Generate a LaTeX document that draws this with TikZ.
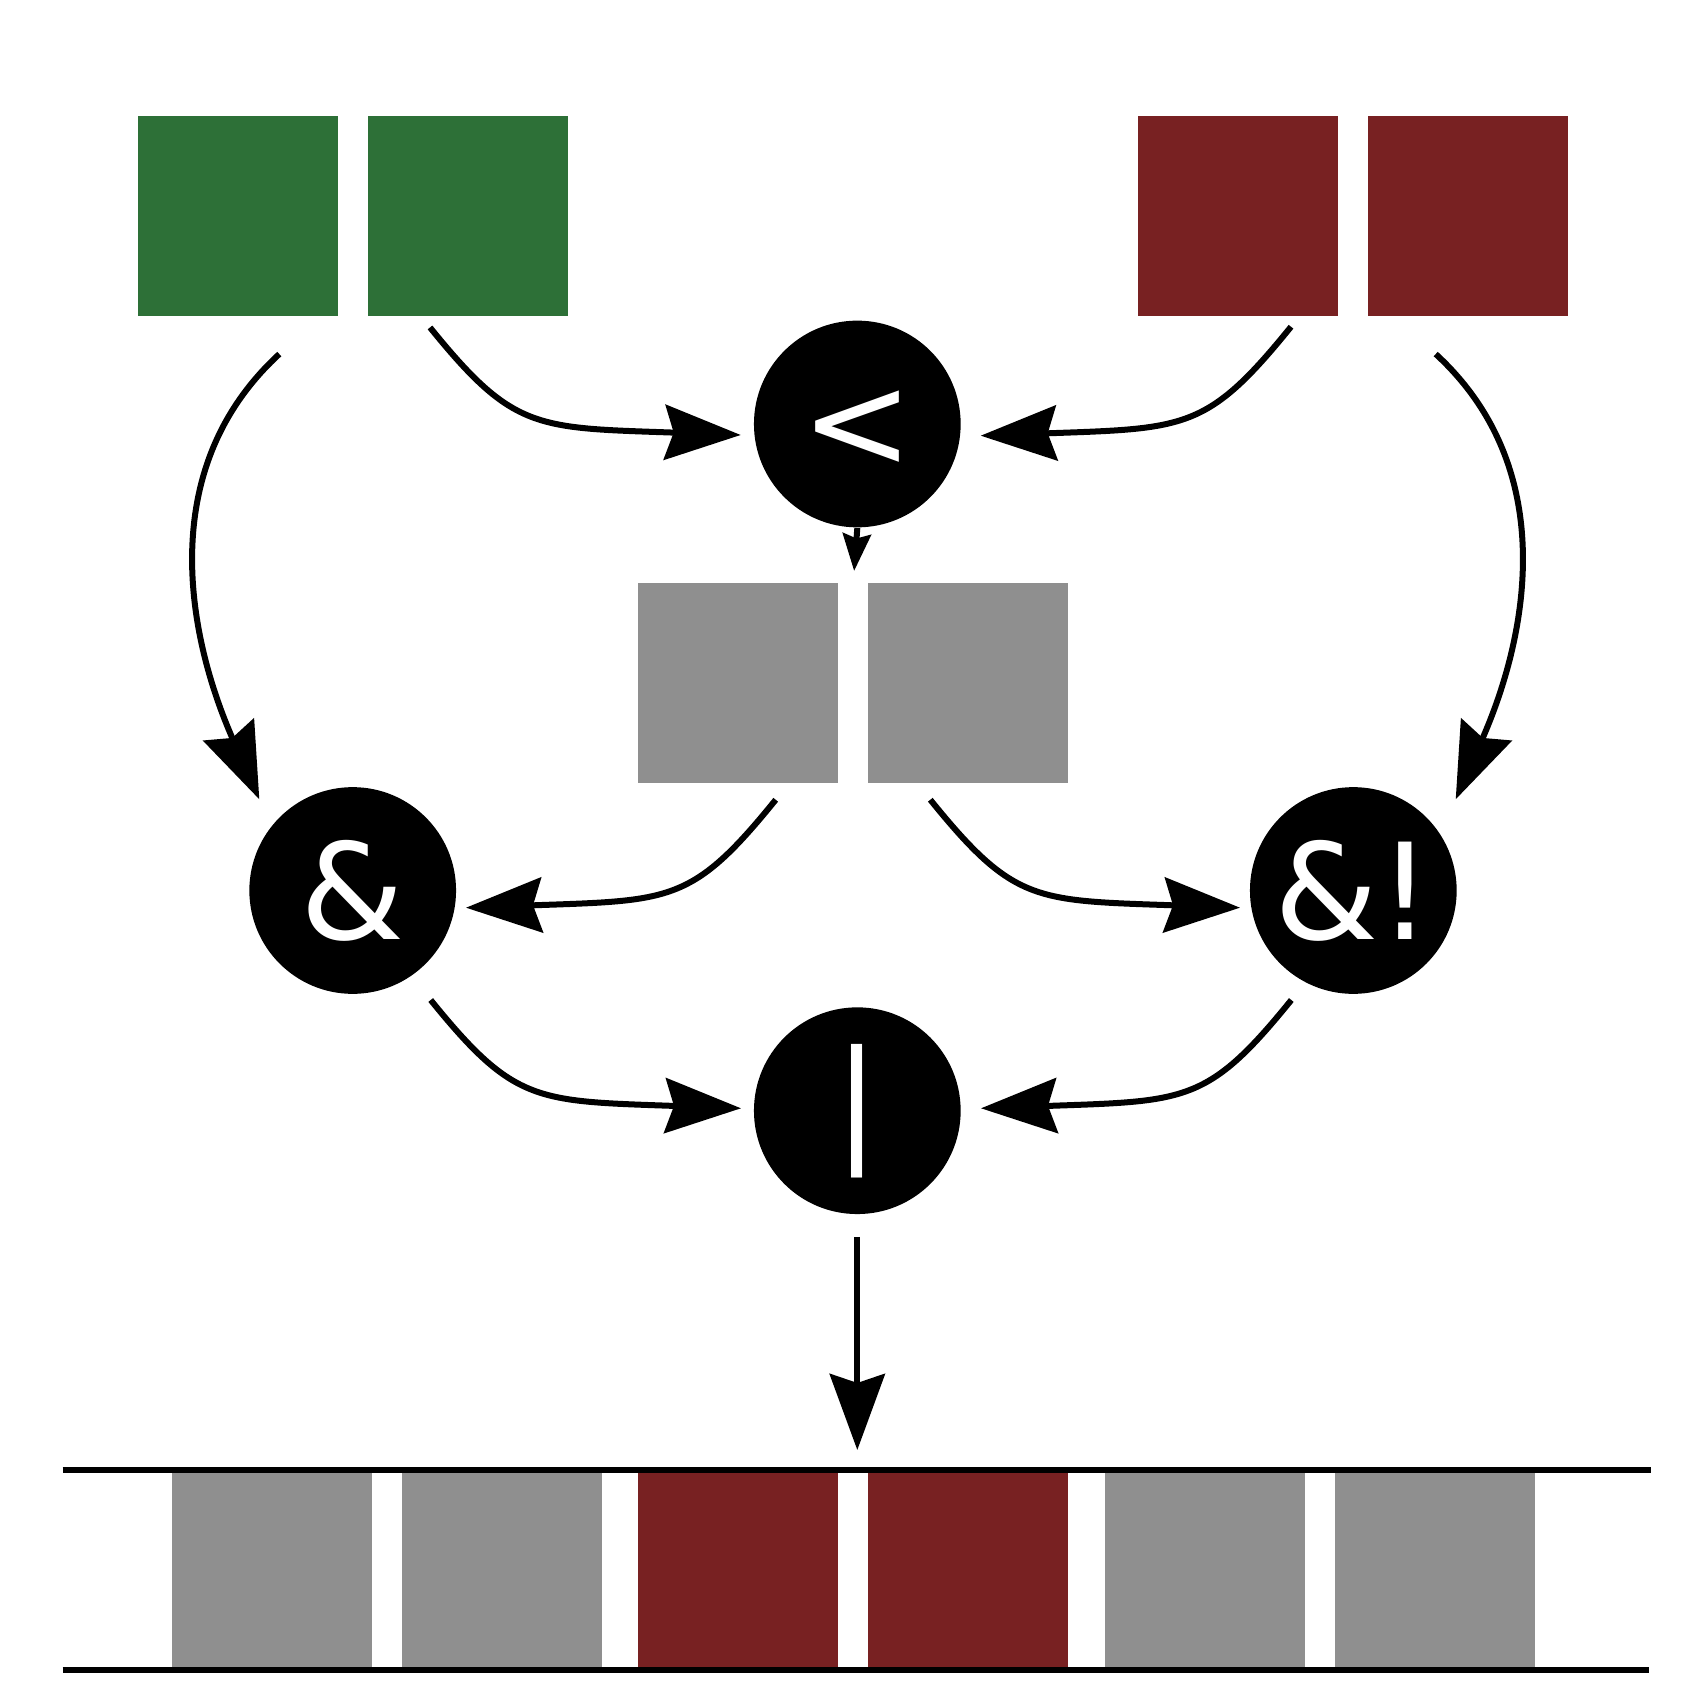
\documentclass[tikz,border=0pt]{standalone}
\usepackage{fontspec}
\usepackage{xcolor}
\usepackage{tikz}
\usetikzlibrary{arrows.meta,calc}
\newfontfamily\opfont{DejaVu Sans}
\definecolor{grn}{RGB}{45,112,55}
\definecolor{rd}{RGB}{120,33,34}
\definecolor{gry}{RGB}{143,143,143}

\begin{document}
\begin{tikzpicture}[x=0.01cm,y=-0.01cm]
	\tikzstyle{sq} = [rectangle,inner sep=0,minimum size=2cm];
	\tikzstyle{op} = [circle,fill=black,text=white,inner sep=0,minimum size=2.066cm,font=\opfont\fontsize{38}{40}\selectfont];
	\tikzstyle{fl} = [draw,line width=0.06cm,-{Stealth[length=0.76cm,width=0.55cm,inset=0.09cm]}];
	\tikzstyle{bd} = [draw,line width=0.067cm];
	\useasboundingbox (0,0) rectangle (1707,1707);
	\node (g1) at (238.3,216) [sq,fill=grn] {};
	\node (g2) at (468.3,216) [sq,fill=grn] {};
	\node (r1) at (1237.6,216) [sq,fill=rd] {};
	\node (r2) at (1467.6,216) [sq,fill=rd] {};
	\node (m1) at (738.3,682.7) [sq,fill=gry] {};
	\node (m2) at (968.3,682.7) [sq,fill=gry] {};
	\node (b1) at (271.7,1570) [sq,fill=gry] {};
	\node (b2) at (501.7,1570) [sq,fill=gry] {};
	\node (b3) at (738.3,1570) [sq,fill=rd] {};
	\node (b4) at (968.3,1570) [sq,fill=rd] {};
	\node (b5) at (1205,1570) [sq,fill=gry] {};
	\node (b6) at (1435,1570) [sq,fill=gry] {};
	\coordinate (bnw) at (62.7,1470);
	\coordinate (bne) at (1650.7,1470);
	\coordinate (bsw) at (62.7,1670);
	\coordinate (bse) at (1649,1670);
	\path [bd] (bnw) -- (bne);
	\path [bd] (bsw) -- (bse);
	\node (lt) at (857.3,424) [op] {\raisebox{-0.055cm}[\height][\depth]{<}};
	\node (and) at (352.7,890.5) [op] {\&};
	\node (andnot) at (1353.3,890.5) [op] {\&!};
	\node (or) at (857.3,1110.7) [op] {|};
	\draw [fl] ($(g1.south)+(41,37.3)$) .. controls +(-126.7,116.6) and +(-70.3,-159.6) .. ($(and)+(-93.4,-91.2)$);
	\draw [fl] ($(r2.south)+(-31.9,37.3)$) .. controls +(126.7,116.6) and +(70.3,-159.6) .. ($(andnot)+(102.4,-91.2)$);
	\draw [fl] ($(g2.south)+(-38.3,10.7)$) .. controls +(83.8,103.6) and +(-204.9,-7.3) .. ($(lt)+(-116.6,11)$);
	\draw [fl] ($(r1.south)+(53.4,10)$) .. controls +(-83.8,103.6) and +(204.9,-7.3) .. ($(lt)+(123.4,11.7)$);
	\draw [fl,-{Stealth[length=0.37cm,width=0.28cm,inset=0.045cm]},shorten >=0.11cm] (lt.south) -- ($(m1.north east)!.5!(m2.north west)$);
	\draw [fl] ($(m1.south)+(37.4,16.3)$) .. controls +(-83.8,103.6) and +(204.9,-7.3) .. ($(and)+(113.3,17.2)$);
	\draw [fl] ($(m2.south)+(-38,16.3)$) .. controls +(83.8,103.6) and +(-204.9,-7.3) .. ($(andnot)+(-113.3,17.2)$);
	\draw [fl] ($(and)+(78,109.5)$) .. controls +(83.8,103.6) and +(-204.9,-7.3) .. ($(or)+(-116.3,-2.4)$);
	\draw [fl] ($(andnot)+(-62,109.5)$) .. controls +(-83.8,103.6) and +(204.9,-7.3) .. ($(or)+(123.7,-2.4)$);
	\draw [fl,shorten <=0.22cm,shorten >=0.2cm] (or.south) -- (or.south |- bnw);
\end{tikzpicture}
\end{document}
